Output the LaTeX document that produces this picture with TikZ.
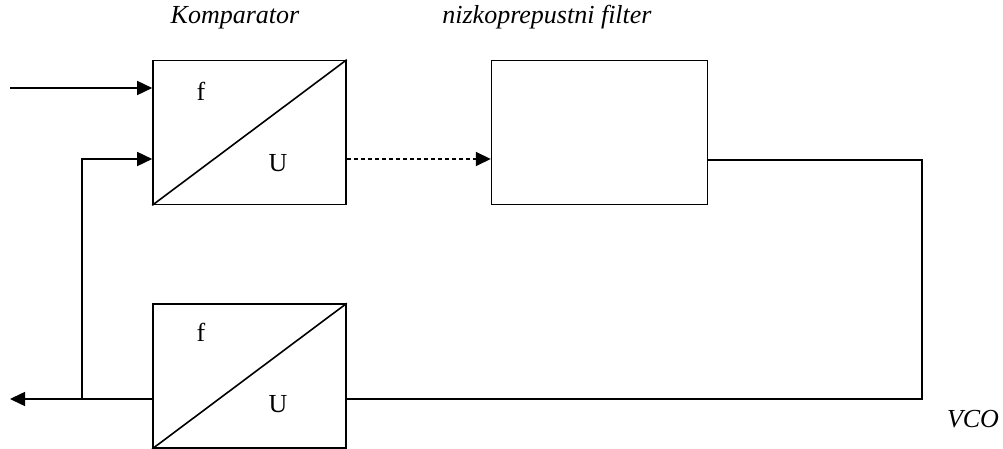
\documentclass[tikz,border=0pt]{standalone}
\usepackage{fontspec}
\setmainfont{Liberation Serif}
\usetikzlibrary{positioning, arrows.meta}

\begin{document}
\begin{tikzpicture}[x=0.5pt,y=-0.5pt,line width=0.8pt,
  blockbox/.style={draw, minimum width=96.5pt, minimum height=72pt, inner sep=0pt},
  lbl/.style={font=\fontsize{13}{15}\selectfont\itshape, anchor=base},
  sym/.style={font=\fontsize{13}{15}\selectfont, inner sep=0pt},
  sig/.style={-{Triangle[length=7.5pt,width=7pt]}},
  dotline/.style={dash pattern=on 2pt off 1.5pt}]
\useasboundingbox (0,0) rectangle (1003,449);

% blocks
\node[blockbox] (komp) at (249.5,132.5) {};
\node[blockbox, minimum width=108pt, right=72pt of komp] (filt) {};
\node[blockbox, below=49pt of komp] (vco) {};

\draw (komp.south west) -- (komp.north east);
\draw (vco.south west) -- (vco.north east);

\node[sym] (kf) at (201,91) {f};
\node[sym] (ku) at (278,163) {U};
\node[sym] (vf) at (201,332) {f};
\node[sym] (vu) at (278,404) {U};

% titles
\node[lbl] (kname) at (235,24) {Komparator};
\node[lbl] (fname) at (547,24) {nizkoprepustni filter};
\node[lbl] (vname) at (973,428) {VCO};

% signal lines
\coordinate (src) at (10,88);
\coordinate (out) at (10,399);
\coordinate (jn) at (82,399);
\coordinate (fb) at (82,159);
\coordinate (rt) at (922,160);

\draw[sig] (src) -- (src -| komp.west);
\draw[sig] (out -| vco.west) -- (out);
\draw[sig] (jn) -- (fb) -- (fb -| komp.west);
\draw[sig, dotline] (komp.east |- fb) -- (filt.west |- fb);
\draw (filt.east |- rt) -- (rt) -- (rt |- out) -- (out -| vco.east);
\end{tikzpicture}
\end{document}
